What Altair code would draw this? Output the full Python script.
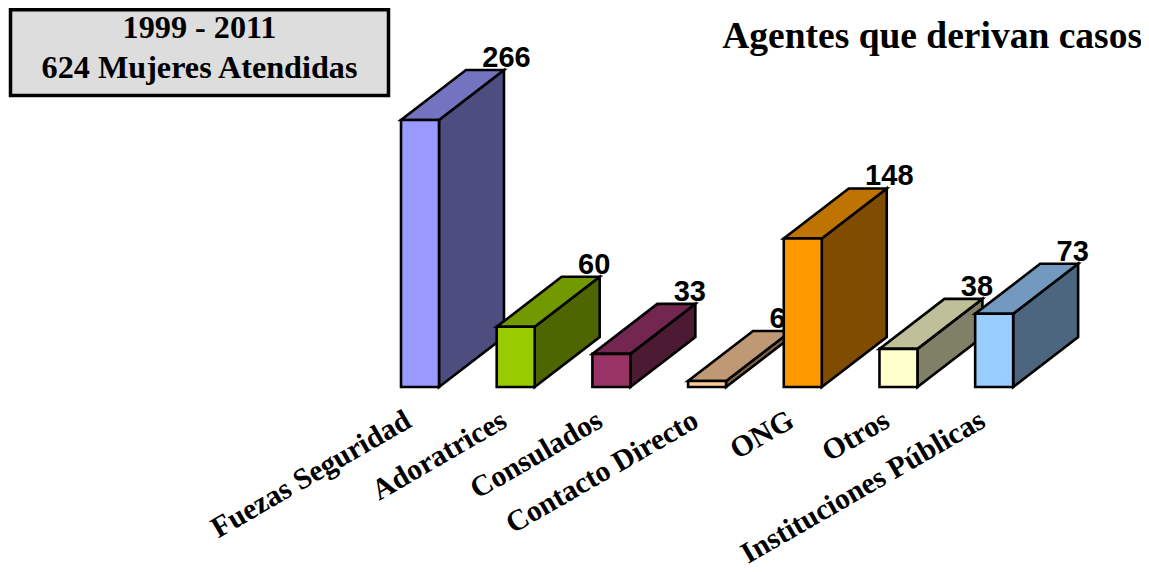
import altair as alt
import pandas as pd

categories = ["Fuezas Seguridad", "Adoratrices", "Consulados", "Contacto Directo", "ONG", "Otros", "Instituciones Públicas"]
values = [266, 60, 33, 6, 148, 38, 73]
front_colors = ["#9999FF", "#99CC00", "#993366", "#FFCC99", "#FF9900", "#FFFFCC", "#99CCFF"]
side_colors = ["#4D4D80", "#4D6600", "#4D1A33", "#806640", "#804D00", "#808066", "#4D6680"]
top_colors = ["#7373BF", "#739900", "#732650", "#BF9973", "#BF7300", "#BFBF99", "#7399BF"]
box_lines = ["1999 - 2011", "624 Mujeres Atendidas"]
chart_title = "Agentes que derivan casos"

BAR_W = 0.397
DEPTH_X = 0.679
DEPTH_Y = 49.8
STROKE = 2.6

xs = alt.Scale(domain=[-4.107, 7.733], range=[0, 1133], nice=False, zero=False)
ys = alt.Scale(domain=[-184.3, 377.6], range=[564, 0], nice=False, zero=False)
X = lambda f: alt.X(f, type="quantitative", scale=xs, axis=None)
Y = lambda f: alt.Y(f, type="quantitative", scale=ys, axis=None)

layers = []
for i, (v, fc, sc, tc) in enumerate(zip(values, front_colors, side_colors, top_colors)):
    side = pd.DataFrame({"x": [i + BAR_W, i + BAR_W + DEPTH_X], "y": [0, DEPTH_Y], "y2": [v, v + DEPTH_Y]})
    top = pd.DataFrame({"y": [v, v + DEPTH_Y], "x": [i, i + DEPTH_X], "x2": [i + BAR_W, i + BAR_W + DEPTH_X]})
    front = pd.DataFrame({"x": [i], "x2": [i + BAR_W], "y": [0], "y2": [v]})
    label = pd.DataFrame({"x": [i + 0.85], "y": [v + DEPTH_Y], "t": [str(v)]})
    layers.append(alt.Chart(side).mark_area(color=sc, stroke="black", strokeWidth=STROKE, strokeJoin="miter", opacity=1)
                  .encode(x=X("x"), y=Y("y"), y2="y2"))
    layers.append(alt.Chart(top).mark_area(color=tc, stroke="black", strokeWidth=STROKE, strokeJoin="miter", orient="horizontal", opacity=1)
                  .encode(y=Y("y"), x=X("x"), x2="x2"))
    layers.append(alt.Chart(front).mark_rect(color=fc, stroke="black", strokeWidth=STROKE)
                  .encode(x=X("x"), x2="x2", y=Y("y"), y2="y2"))
    layers.append(alt.Chart(label).mark_text(font="Liberation Sans", fontWeight="bold", fontSize=29, align="left",
                                             baseline="alphabetic", dy=-3, color="black")
                  .encode(x=X("x"), y=Y("y"), text="t:N"))

cat_df = pd.DataFrame({"x": [i + 0.08 for i in range(len(categories))], "y": [-31] * len(categories), "t": categories})
layers.append(alt.Chart(cat_df).mark_text(font="Liberation Serif", fontWeight="bold", fontSize=29.7, align="right",
                                          baseline="middle", angle=330, color="black")
              .encode(x=X("x"), y=Y("y"), text="t:N"))

box = alt.Chart(pd.DataFrame({"a": [0]})).mark_rect(fill="#DDDDDD", stroke="black", strokeWidth=3.5).encode(
    x=alt.value(2.5), x2=alt.value(380.5), y=alt.value(1.75), y2=alt.value(87.5))
layers.append(box)
for line, yy in zip(box_lines, [30, 70]):
    layers.append(alt.Chart(pd.DataFrame({"t": [line]})).mark_text(font="Liberation Serif", fontWeight="bold", fontSize=32.2,
                  align="center", baseline="alphabetic", color="black")
                  .encode(x=alt.value(191.5), y=alt.value(yy), text="t:N"))
layers.append(alt.Chart(pd.DataFrame({"t": [chart_title]})).mark_text(font="Liberation Serif", fontWeight="bold", fontSize=37.5,
              align="right", baseline="alphabetic", color="black")
              .encode(x=alt.value(1134), y=alt.value(40), text="t:N"))

chart = alt.layer(*layers).properties(width=1133, height=564, padding=0, autosize=alt.AutoSizeParams(type="none")
        ).configure_view(stroke=None)
chart.save("out.html", embed_options={"renderer": "svg", "actions": False})
